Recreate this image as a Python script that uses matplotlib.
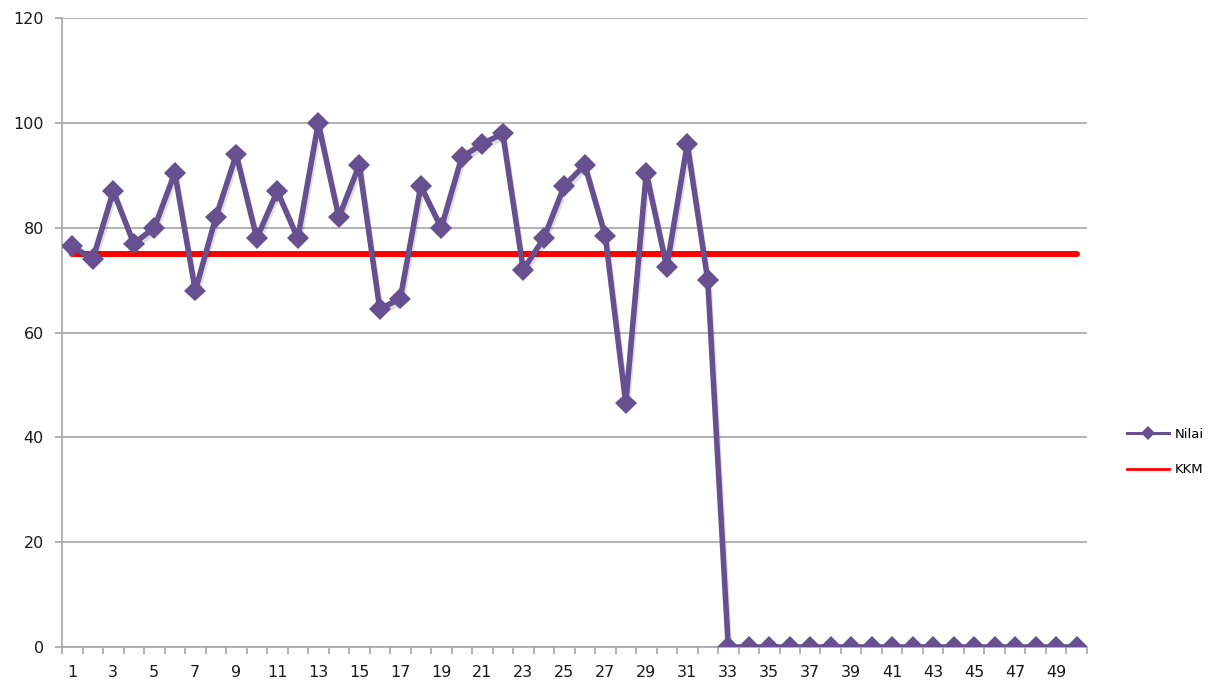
import matplotlib.pyplot as plt
import matplotlib.patheffects as pe
from matplotlib.lines import Line2D
import numpy as np

# nilai per siswa (1..50) dan batas KKM
siswa = list(range(1, 51))
nilai = [76.5, 74, 87, 77, 80, 90.5, 68, 82, 94, 78,
         87, 78, 100, 82, 92, 64.5, 66.5, 88, 80, 93.5,
         96, 98, 72, 78, 88, 92, 78.5, 46.5, 90.5, 72.5,
         96, 70, 0, 0, 0, 0, 0, 0, 0, 0,
         0, 0, 0, 0, 0, 0, 0, 0, 0, 0]
kkm = [75] * 50
y_ticks = [0, 20, 40, 60, 80, 100, 120]

purple = "#66508f"
grid_grey = "#a6a6a6"

fig = plt.figure(figsize=(12.19, 7.0), dpi=100)
ax = fig.add_axes([0.0509, 0.0757, 0.8408, 0.8983])

shadow = [pe.SimpleLineShadow(offset=(1, -2.5), alpha=0.15, shadow_color="#222222"), pe.Normal()]

ax.plot(siswa, kkm, color="#ff0000", linewidth=4.3, solid_capstyle="round", zorder=3)
ax.plot(siswa, nilai, color=purple, linewidth=4.0, marker="D", markersize=11,
        markeredgewidth=0, zorder=4, path_effects=shadow)

ax.set_xlim(0.5, 50.5)
ax.set_ylim(0, 120)
ax.set_yticks(y_ticks)
ax.set_xticks(siswa[::2])
ax.set_xticks(np.arange(0.5, 51, 1), minor=True)

ax.yaxis.grid(True, color=grid_grey, linewidth=1.2)
ax.set_axisbelow(True)
for side in ("top", "right"):
    ax.spines[side].set_visible(False)
for side in ("left", "bottom"):
    ax.spines[side].set_color(grid_grey)
    ax.spines[side].set_linewidth(1.2)

ax.tick_params(axis="x", which="major", length=0, pad=13, labelsize=11.5, labelcolor="#1a1a1a")
ax.tick_params(axis="x", which="minor", length=5, color=grid_grey, width=1.2)
ax.tick_params(axis="y", length=5, color=grid_grey, width=1.2, pad=8, labelsize=11.5,
               labelcolor="#1a1a1a")

# legenda dengan garis tipis seperti gaya Excel
handles = [
    Line2D([], [], color=purple, linewidth=2.2, marker="D", markersize=7, markeredgewidth=0),
    Line2D([], [], color="#ff0000", linewidth=2.0),
]
fig.legend(handles, ["Nilai", "KKM"], loc="center left", bbox_to_anchor=(0.915, 0.354),
           frameon=False, fontsize=9.5, handlelength=3.2, labelspacing=1.7,
           handletextpad=0.4)

fig.savefig("out.png", dpi=100)
